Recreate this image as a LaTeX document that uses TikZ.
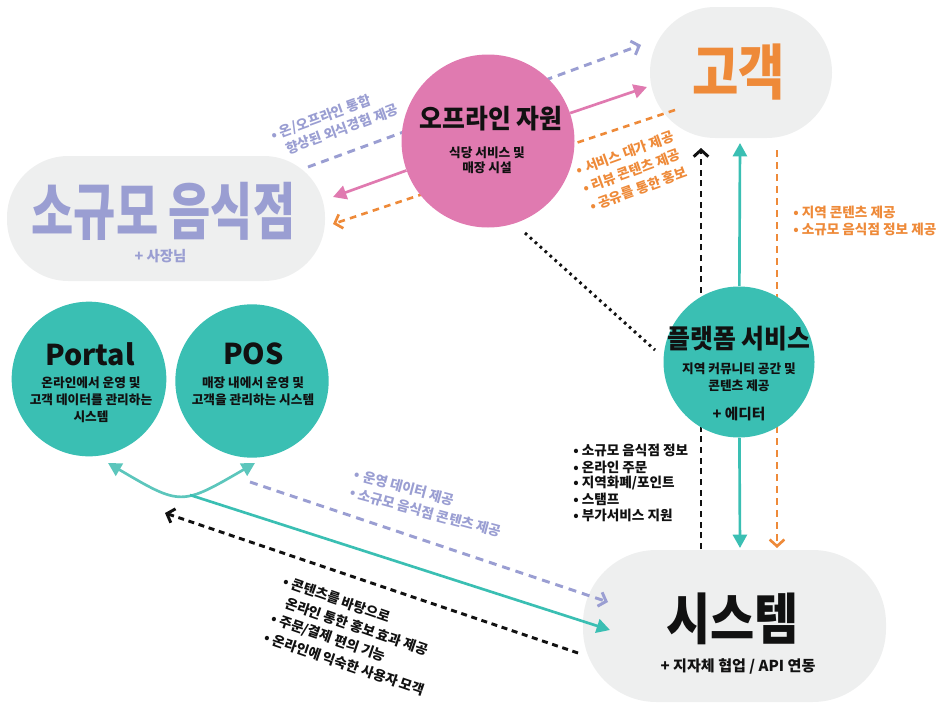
\documentclass[tikz,border=0pt]{standalone}
\usepackage{fontspec}
\setmainfont{Noto Sans CJK KR}
\newfontfamily\heavy{Noto Sans CJK KR Black}
\usetikzlibrary{arrows.meta}
\pgfdeclarelayer{pills}
\pgfdeclarelayer{lines}
\pgfsetlayers{pills,lines,main}
\definecolor{pillgray}{HTML}{EEEFEF}
\definecolor{tealc}{HTML}{3ABFB3}
\definecolor{tealcurve}{HTML}{5CC6BC}
\definecolor{pinkc}{HTML}{E07AB0}
\definecolor{orangec}{HTML}{EE8A39}
\definecolor{lavc}{HTML}{9A9ED2}
\definecolor{inkc}{HTML}{111111}
\newcommand\hx[2]{\scalebox{#1}[1]{#2}}
\newcommand\fs[1]{\fontsize{#1}{#1}\selectfont}
\begin{document}
\begin{tikzpicture}[x=0.75pt,y=-0.75pt,
  pill/.style={fill=pillgray, draw=none, inner sep=0pt},
  disc/.style={circle, draw=none, inner sep=0pt},
  txt/.style={inner sep=0pt, text=inkc, font=\bfseries},
  sub/.style={inner sep=0pt, text=inkc, font=\bfseries\fs{9.5}},
  lbl/.style={inner sep=0pt, font=\bfseries\fs{10.2}, anchor=west},
  lavdash/.style={draw=lavc, line width=2.2pt, dash pattern=on 6pt off 4.5pt},
  ordash/.style={draw=orangec, line width=2pt, dash pattern=on 5pt off 4pt},
  bkdash/.style={draw=inkc, line width=2.2pt, dash pattern=on 4.5pt off 3.5pt},
  bkdot/.style={draw=inkc, line width=2.2pt, dash pattern=on 2pt off 3pt},
  chev/.style={-{Straight Barb[length=5pt,width=11pt]}},
  solidtip/.style={-{Triangle[length=10pt,width=10.5pt]}},
  pinkline/.style={draw=pinkc, line width=2pt, solidtip},
  tealline/.style={draw=tealc, line width=2pt, solidtip}]
\useasboundingbox (0,0) rectangle (941,703);

% pills
\begin{pgfonlayer}{pills}
\node[pill, minimum width=136.5pt, minimum height=98.25pt, rounded corners=49pt] (cust) at (741,72.5) {};
\node[pill, minimum width=238.5pt, minimum height=93.75pt, rounded corners=46pt] (rest) at (166,218.5) {};
\node[pill, minimum width=227.25pt, minimum height=114pt, rounded corners=55pt] (sys) at (734.5,626) {};
\end{pgfonlayer}

% circles
\node[disc, fill=pinkc, minimum size=129.75pt] (off) at (488,141) {};
\node[disc, fill=tealc, minimum size=113.25pt] (plat) at (739,362) {};
\node[disc, fill=tealc, minimum size=116pt] (portal) at (89,379) {};
\node[disc, fill=tealc, minimum size=115pt] (pos) at (252,381) {};

% pill texts
\node[txt, text=orangec, font=\heavy\fs{45}] (custT) at (738.5,72.5) {\hx{0.84}{고객}};
\node[txt, text=lavc, font=\heavy\fs{46.5}] (restT) at (163.5,211.5) {\hx{0.74}{소규모 음식점}};
\node[txt, text=lavc, font=\bfseries\fs{10.8}] (restS) at (160.5,256.5) {+ 사장님};
\node[txt, font=\heavy\fs{41.4}] (sysT) at (732.5,619) {\hx{0.87}{시스템}};
\node[txt, font=\bfseries\fs{11.3}] (sysS) at (738,666) {+ 지자체 협업 / API 연동};

% circle texts
\node[txt, font=\bfseries\fs{19.8}] (offT) at (491,118.5) {\hx{0.94}{오프라인 자원}};
\node[sub] (offS1) at (487,152.5) {식당 서비스 및};
\node[sub] (offS2) at (487,168) {매장 시설};
\node[txt, font=\bfseries\fs{19.8}] (platT) at (739,339) {\hx{0.94}{플랫폼 서비스}};
\node[sub] (platS1) at (739,369) {지역 커뮤니티 공간 및};
\node[sub] (platS2) at (739,386) {콘텐츠 제공};
\node[txt, font=\bfseries\fs{11}] (platS3) at (739,414) {+ 에디터};
\node[txt, font=\bfseries\fs{21.5}] (portalT) at (90,354) {Portal};
\node[sub] (portalS1) at (91,383) {온라인에서 운영 및};
\node[sub] (portalS2) at (91,400) {고객 데이터를 관리하는};
\node[sub] (portalS3) at (91,416.5) {시스템};
\node[txt, font=\bfseries\fs{21.5}] (posT) at (253.5,354) {POS};
\node[sub] (posS1) at (253,383) {매장 내에서 운영 및};
\node[sub] (posS2) at (253,400) {고객을 관리하는 시스템};

% label blocks
\begin{scope}[shift={(272,136)}, rotate=20, transform shape]
\node[lbl, text=lavc] (la1) at (0,0) {• 온/오프라인 통합};
\node[lbl, text=lavc] (la2) at (0,17.5) {\phantom{• }향상된 외식경험 제공};
\end{scope}
\begin{scope}[shift={(577,171)}, rotate=20, transform shape]
\node[lbl, text=orangec] (lb1) at (0,0) {• 서비스 대가 제공};
\node[lbl, text=orangec] (lb2) at (0,19) {• 리뷰 콘텐츠 제공};
\node[lbl, text=orangec] (lb3) at (0,38) {• 공유를 통한 홍보};
\end{scope}
\begin{scope}[shift={(355,474)}, rotate=-15, transform shape]
\node[lbl, text=lavc] (lc1) at (0,0) {• 운영 데이터 제공};
\node[lbl, text=lavc] (lc2) at (0,18.6) {• 소규모 음식점 콘텐츠 제공};
\end{scope}
\begin{scope}[shift={(284,581)}, rotate=-19, transform shape]
\node[lbl, text=inkc] (ld1) at (0,0) {• 콘텐츠를 바탕으로};
\node[lbl, text=inkc] (ld2) at (0,19.5) {\phantom{• }온라인 통한 홍보 효과 제공};
\node[lbl, text=inkc] (ld3) at (0,39) {• 주문/결제 편의 기능};
\node[lbl, text=inkc] (ld4) at (0,58.5) {• 온라인에 익숙한 사용자 모객};
\end{scope}
\node[lbl, text=orangec] (le1) at (793,212) {• 지역 콘텐츠 제공};
\node[lbl, text=orangec] (le2) at (793,229) {• 소규모 음식점 정보 제공};
\node[lbl, text=inkc] (lf1) at (573,450.7) {• 소규모 음식점 정보};
\node[lbl, text=inkc] (lf2) at (573,467) {• 온라인 주문};
\node[lbl, text=inkc] (lf3) at (573,483.3) {• 지역화폐/포인트};
\node[lbl, text=inkc] (lf4) at (573,499.6) {• 스탬프};
\node[lbl, text=inkc] (lf5) at (573,515.9) {• 부가서비스 지원};

% connector end points
\coordinate (pinkTipC) at (647,87);
\coordinate (pinkTipR) at (333,197);
\coordinate (lavA0) at (308,167);
\coordinate (lavA1) at (641,45);
\coordinate (orA0) at (675,110);
\coordinate (orA1) at (333,224);
\coordinate (dot0) at (525,233);
\coordinate (dot1) at (655,350);
\coordinate (bkV0) at (701,549);
\coordinate (bkV1) at (701,148);
\coordinate (tealTop) at (740,143);
\coordinate (tealBot) at (740,548);
\coordinate (orV0) at (777,150);
\coordinate (orV1) at (777,548);
\coordinate (crvL) at (108,463);
\coordinate (crvR) at (255,463);
\coordinate (crvM) at (190,495);
\coordinate (tealSys) at (610,630);
\coordinate (lavB0) at (250,482);
\coordinate (lavB1) at (608,602);
\coordinate (bkB0) at (578,653);
\coordinate (bkB1) at (165,513);

\begin{pgfonlayer}{lines}
\draw[pinkline] (off) -- (pinkTipC);
\draw[pinkline] (off) -- (pinkTipR);
\draw[lavdash, chev] (lavA0) -- (lavA1);
\draw[ordash, chev] (orA0) -- (orA1);
\draw[bkdot] (dot0) -- (dot1);
\draw[bkdash, chev] (bkV0) -- (bkV1);
\draw[tealline] (plat) -- (tealTop);
\draw[tealline] (plat) -- (tealBot);
\draw[ordash, chev] (orV0) -- (orV1);
\draw[draw=tealcurve, line width=2pt, {Triangle[length=10pt,width=10.5pt]}-{Triangle[length=10pt,width=10.5pt]}] (crvL) .. controls (181,506) .. (crvR);
\draw[tealline] (crvM) -- (tealSys);
\draw[lavdash, chev] (lavB0) -- (lavB1);
\draw[bkdash, chev] (bkB0) -- (bkB1);
\end{pgfonlayer}
\end{tikzpicture}
\end{document}
